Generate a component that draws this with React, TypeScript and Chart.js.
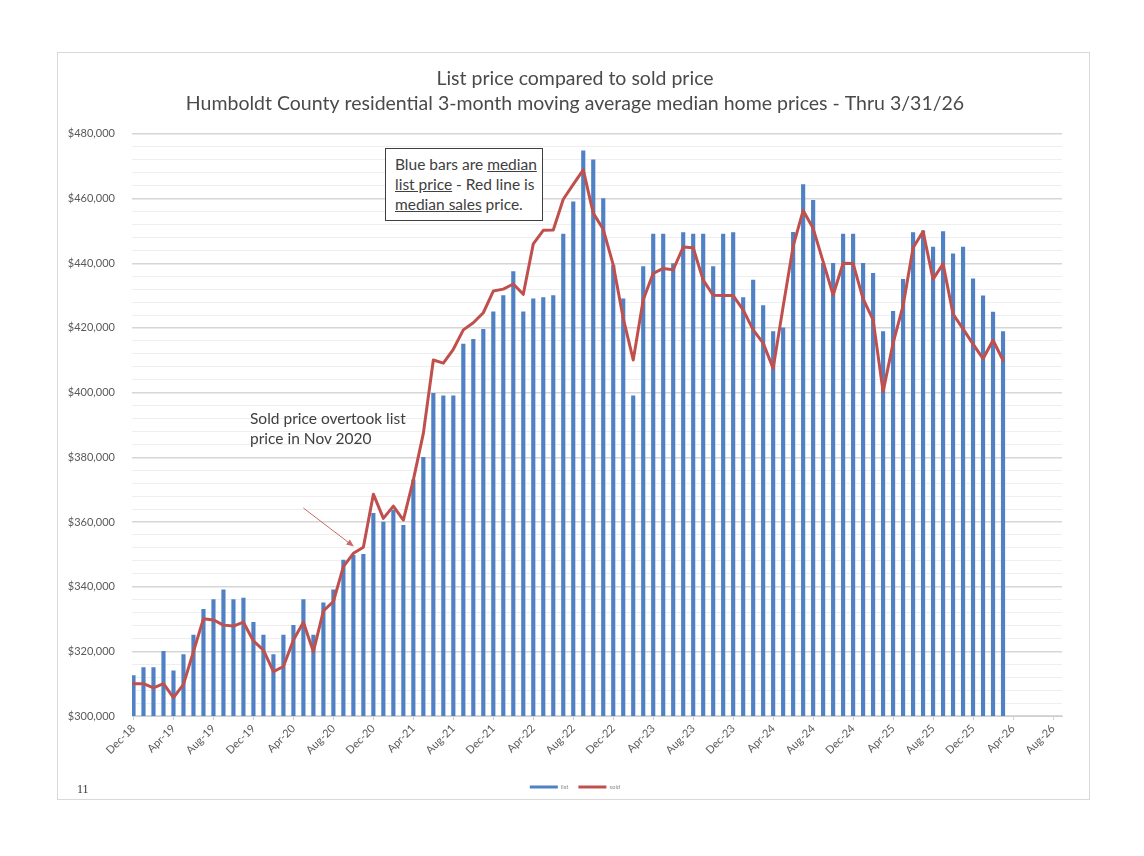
import React, { useEffect, useRef } from 'react';
import { Chart, registerables } from 'chart.js';

Chart.register(...registerables);

// ---------- data ----------
const tickLabels = [
  'Dec-18', 'Apr-19', 'Aug-19', 'Dec-19', 'Apr-20', 'Aug-20', 'Dec-20', 'Apr-21',
  'Aug-21', 'Dec-21', 'Apr-22', 'Aug-22', 'Dec-22', 'Apr-23', 'Aug-23', 'Dec-23',
  'Apr-24', 'Aug-24', 'Dec-24', 'Apr-25', 'Aug-25', 'Dec-25', 'Apr-26', 'Aug-26',
];
const monthsPerTick = 4;

// monthly, Dec-18 .. Mar-26
const listPrice = [
  312500, 315000, 315000, 320000, 314000, 319000, 325000, 333000, 336000, 339000,
  336000, 336500, 329000, 325000, 319000, 325000, 328000, 336000, 325000, 335000,
  339000, 348200, 349700, 350000, 362700, 360000, 363700, 359000, 373000, 380000,
  399800, 399000, 399000, 415000, 416500, 419600, 425000, 430000, 437400, 425000,
  429000, 429400, 430000, 449000, 459000, 474800, 472000, 460000, 439400, 429000,
  399000, 439000, 449000, 449000, 439900, 449500, 449000, 449000, 439000, 449000,
  449500, 429400, 434800, 426900, 418900, 420000, 449600, 464300, 459500, 440000,
  440000, 449000, 449000, 440000, 436900, 418900, 425100, 435000, 449500, 450000,
  445000, 449800, 442900, 445000, 435200, 429900, 424900, 418900,
];
const soldPrice = [
  310000, 310000, 308700, 310000, 305700, 309800, 319900, 330100, 329700, 328100,
  327800, 329000, 323200, 320400, 313700, 315300, 323500, 329000, 319900, 332500,
  335400, 346200, 350300, 352200, 368600, 361100, 364900, 360600, 373000, 387400,
  410100, 409100, 413400, 419400, 421600, 424700, 431400, 432000, 433600, 430400,
  446000, 450200, 450300, 459800, 464400, 468900, 455500, 450500, 439500, 423000,
  410100, 428700, 436900, 438400, 438000, 445000, 444800, 434800, 430100, 430000,
  430000, 425600, 419400, 415300, 407500, 426600, 445300, 456300, 450800, 440500,
  430200, 440000, 439900, 429000, 422500, 400300, 415300, 426900, 444800, 449800,
  435100, 439800, 424300, 419700, 415000, 410500, 416200, 410000,
];

const yMin = 300000;
const yMax = 480000;
const yMajorStep = 20000;
const yMinorStep = 4000;

// annotation arrow (month index, price)
const arrowFrom = [17, 364300];
const arrowTo = [22.05, 352400];

const titleLines = [
  'List price compared to sold price',
  'Humboldt County residential 3-month moving average median home prices - Thru 3/31/26',
];

const FONT = 'Lato';
const BLUE = '#4F81C4';
const RED = '#C0504D';

const fmtMoney = (v: number) =>
  '$' + String(Math.round(v)).replace(/\B(?=(\d{3})+(?!\d))/g, ',');

const arrowPlugin = {
  id: 'arrowNote',
  afterDatasetsDraw(chart: any) {
    const { ctx, scales } = chart;
    const x0 = scales.x.getPixelForValue(arrowFrom[0]);
    const y0 = scales.y.getPixelForValue(arrowFrom[1]);
    const x1 = scales.x.getPixelForValue(arrowTo[0]);
    const y1 = scales.y.getPixelForValue(arrowTo[1]);
    const ang = Math.atan2(y1 - y0, x1 - x0);
    const head = 8;
    ctx.save();
    ctx.strokeStyle = '#C86A68';
    ctx.fillStyle = '#C86A68';
    ctx.lineWidth = 1;
    ctx.beginPath();
    ctx.moveTo(x0, y0);
    ctx.lineTo(x1 - Math.cos(ang) * head * 0.8, y1 - Math.sin(ang) * head * 0.8);
    ctx.stroke();
    ctx.beginPath();
    ctx.moveTo(x1, y1);
    ctx.lineTo(x1 - head * Math.cos(ang - 0.4), y1 - head * Math.sin(ang - 0.4));
    ctx.lineTo(x1 - head * Math.cos(ang + 0.4), y1 - head * Math.sin(ang + 0.4));
    ctx.closePath();
    ctx.fill();
    ctx.restore();
  },
};

export default function App() {
  const canvasRef = useRef<HTMLCanvasElement | null>(null);

  useEffect(() => {
    const canvas = canvasRef.current;
    if (!canvas) return;
    const lastTick = (tickLabels.length - 1) * monthsPerTick;
    const chart = new Chart(canvas, {
      type: 'bar',
      data: {
        datasets: [
          {
            type: 'bar',
            label: 'list',
            data: listPrice.map((v, i) => ({ x: i, y: v })),
            backgroundColor: BLUE,
            borderWidth: 0,
            barThickness: 3.5,
            order: 2,
          } as any,
          {
            type: 'line',
            label: 'sold',
            data: soldPrice.map((v, i) => ({ x: i, y: v })),
            borderColor: RED,
            backgroundColor: RED,
            borderWidth: 3,
            pointRadius: 0,
            tension: 0,
            borderJoinStyle: 'round',
            borderCapStyle: 'round',
            order: 1,
          } as any,
        ],
      },
      options: {
        responsive: false,
        animation: false,
        events: [],
        devicePixelRatio: 1,
        layout: { padding: { left: 62, right: 56, top: 52, bottom: 56 } },
        scales: {
          x: {
            type: 'linear',
            min: -0.15,
            max: lastTick + 0.9,
            offset: false,
            afterBuildTicks: (scale: any) => {
              scale.ticks = tickLabels.map((_, i) => ({ value: i * monthsPerTick }));
            },
            afterFit: (scale: any) => {
              scale.height = 58;
            },
            ticks: {
              autoSkip: false,
              minRotation: 45,
              maxRotation: 45,
              padding: 2,
              color: '#595959',
              font: { family: FONT, size: 11 },
              callback: (v: any) => tickLabels[Math.round(Number(v) / monthsPerTick)] ?? '',
            },
            grid: {
              offset: false,
              drawOnChartArea: false,
              drawTicks: true,
              tickLength: 4,
              color: '#D0D0D0',
            },
            border: { display: true, color: '#D0D0D0' },
          } as any,
          y: {
            type: 'linear',
            position: 'left',
            min: yMin,
            max: yMax,
            afterFit: (scale: any) => {
              scale.width = 70;
            },
            ticks: {
              stepSize: yMinorStep,
              autoSkip: false,
              padding: 17,
              color: '#595959',
              font: { family: FONT, size: 11 },
              callback: (v: any) => (Number(v) % yMajorStep === 0 ? fmtMoney(Number(v)) : ''),
            },
            grid: {
              drawTicks: false,
              color: (ctx: any) =>
                ctx.tick && ctx.tick.value % yMajorStep === 0 ? '#D6D6D6' : '#EEEEEE',
              lineWidth: (ctx: any) =>
                ctx.tick && ctx.tick.value % yMajorStep === 0 ? 1.5 : 1,
            },
            border: { display: false },
          } as any,
          yRight: {
            type: 'linear',
            position: 'right',
            display: true,
            min: yMin,
            max: yMax,
            afterFit: (scale: any) => {
              scale.width = 26;
            },
            ticks: { display: false },
            grid: { display: false, drawTicks: false },
            border: { display: false },
          } as any,
        },
        plugins: {
          tooltip: { enabled: false },
          title: {
            display: true,
            text: titleLines,
            color: '#4A4A4A',
            font: { family: FONT, size: 19.5, weight: 'normal', lineHeight: 1.28 },
            padding: { top: 14, bottom: 18 },
          },
          legend: {
            display: true,
            position: 'bottom',
            labels: {
              boxWidth: 28,
              boxHeight: 3,
              padding: 10,
              color: '#8C8C8C',
              font: { family: FONT, size: 6 },
              sort: (a: any, b: any) => a.datasetIndex - b.datasetIndex,
              generateLabels: (c: any) =>
                Chart.defaults.plugins.legend.labels
                  .generateLabels(c)
                  .map((l: any) => {
                    const ds = c.data.datasets[l.datasetIndex];
                    return {
                      ...l,
                      lineWidth: 0,
                      fillStyle: ds.type === 'line' ? ds.borderColor : ds.backgroundColor,
                    };
                  }),
            },
          },
        },
      } as any,
      plugins: [arrowPlugin],
    });
    return () => chart.destroy();
  }, []);

  return (
    <div style={{ position: 'absolute', left: 0, top: 0, width: 1144, height: 856, background: '#fff', overflow: 'hidden' }}>
      <div
        style={{
          position: 'absolute', left: 57, top: 52, width: 1033, height: 748,
          border: '1px solid #D9D9D9', boxSizing: 'border-box',
        }}
      />
      <canvas ref={canvasRef} width={1144} height={856} style={{ position: 'absolute', left: 0, top: 0 }} />
      <div
        style={{
          position: 'absolute', left: 385, top: 148, width: 158, height: 73,
          border: '1.5px solid #3F3F3F', boxSizing: 'border-box', background: '#fff',
          padding: '5px 0 0 9px', fontFamily: FONT, fontSize: 15.5, lineHeight: '20px',
          color: '#404040', whiteSpace: 'nowrap',
        }}
      >
        Blue bars are <u>median</u>
        <br />
        <u>list price</u> - Red line is
        <br />
        <u>median sales</u> price.
      </div>
      <div
        style={{
          position: 'absolute', left: 250, top: 408, fontFamily: FONT, fontSize: 15.5,
          lineHeight: '20px', color: '#404040', whiteSpace: 'nowrap',
        }}
      >
        Sold price overtook list
        <br />
        price in Nov 2020
      </div>
      <div
        style={{
          position: 'absolute', left: 77, top: 782, fontFamily: 'Liberation Serif', fontSize: 12,
          color: '#333', lineHeight: '14px',
        }}
      >
        11
      </div>
    </div>
  );
}
